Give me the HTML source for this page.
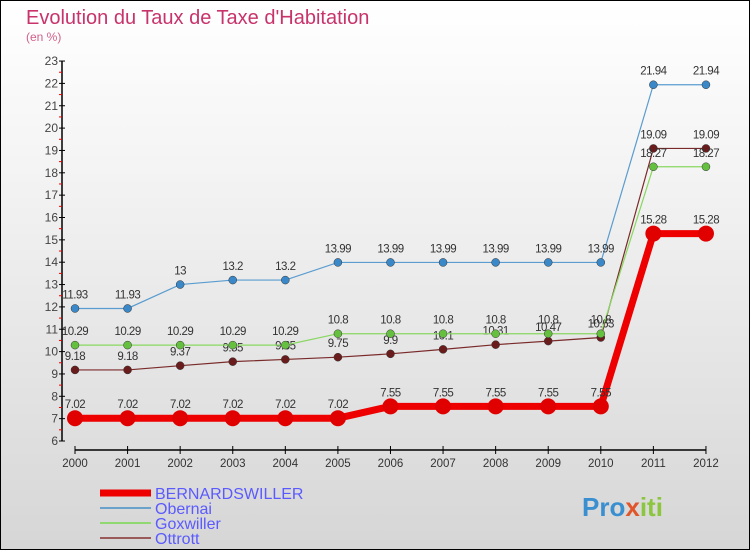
<!DOCTYPE html>
<html><head><meta charset="utf-8">
<style>
body{margin:0;width:750px;height:550px;overflow:hidden;font-family:"Liberation Sans",sans-serif;}
#wrap{position:absolute;left:0;top:0;width:748px;height:548px;border:1px solid #000;background:linear-gradient(#ffffff,#f4f4f4 30%,#d6d6d6);}
</style></head><body>
<div id="wrap">
<svg id="chart" width="750" height="550" style="position:absolute;left:-1px;top:-1px">
<text x="26" y="24" font-size="20" fill="#c8336b">Evolution du Taux de Taxe d'Habitation</text>
<text x="26" y="41" font-size="12" fill="#d0608a">(en %)</text>
<g id="axes"></g><g id="series"></g><g id="legend"></g>
<text x="582" y="516" font-size="26" font-weight="bold"><tspan fill="#3a8fd0">Pro</tspan><tspan fill="#e0562a">x</tspan><tspan fill="#8cc63f">iti</tspan></text>
</svg>
</div>
<script>
const years=[2000,2001,2002,2003,2004,2005,2006,2007,2008,2009,2010,2011,2012];
const bernardswiller=[7.02,7.02,7.02,7.02,7.02,7.02,7.55,7.55,7.55,7.55,7.55,15.28,15.28];
const obernai=[11.93,11.93,13,13.2,13.2,13.99,13.99,13.99,13.99,13.99,13.99,21.94,21.94];
const goxwiller=[10.29,10.29,10.29,10.29,10.29,10.8,10.8,10.8,10.8,10.8,10.8,18.27,18.27];
const ottrott=[9.18,9.18,9.37,9.55,9.65,9.75,9.9,10.1,10.31,10.47,10.63,19.09,19.09];
const yTicks=[6,7,8,9,10,11,12,13,14,15,16,17,18,19,20,21,22,23];
const NS="http://www.w3.org/2000/svg";
const x=i=>75+i*52.58, y=v=>441-(v-6)*22.35;
function mk(tag,attrs,parent){const e=document.createElementNS(NS,tag);for(const k in attrs)e.setAttribute(k,attrs[k]);parent.appendChild(e);return e;}
const axes=document.getElementById('axes');
let e=mk('line',{x1:62,y1:y(23),x2:62,y2:y(6),stroke:'#000','stroke-width':1.5},axes);

e=mk('line',{x1:x(0),y1:450,x2:x(12),y2:450,stroke:'#000','stroke-width':1.5},axes);

yTicks.forEach(v=>{
 mk('line',{x1:59,y1:y(v),x2:65,y2:y(v),stroke:'#000'},axes);
 if(v<23)mk('line',{x1:59,y1:y(v+0.5),x2:62,y2:y(v+0.5),stroke:'#e00'},axes);
 const t=mk('text',{x:58,y:y(v)+4,'text-anchor':'end','font-size':12,fill:'#444'},axes);t.textContent=v;
 
});
years.forEach((yr,i)=>{
 mk('line',{x1:x(i),y1:446,x2:x(i),y2:454,stroke:'#000'},axes);
 const t=mk('text',{x:x(i),y:467,'text-anchor':'middle','font-size':11.5,fill:'#333'},axes);t.textContent=yr;
 
});
const ser=document.getElementById('series');
const defs=[['ottrott',ottrott,'#7a2a2a','#6a1c1c',1.2,4],['goxwiller',goxwiller,'#88d860','#66c040',1.2,4],['obernai',obernai,'#5a9ccf','#3a88c8',1.2,4],['bernardswiller',bernardswiller,'#ee0000','#e00000',7,8]];
defs.forEach(([name,data,lc,pc,w,r])=>{
 const g=mk('g',{},ser);
 const p=mk('polyline',{points:data.map((v,i)=>x(i)+','+y(v)).join(' '),fill:'none',stroke:lc,'stroke-width':w},g);
 
 data.forEach((v,i)=>{
  const c=mk('circle',{cx:x(i),cy:y(v),r:r,fill:pc,stroke:r>5?'none':'#333','stroke-width':0.5},g);
  
  const t=mk('text',{x:x(i),y:y(v)-10,'text-anchor':'middle','font-size':11.5,fill:'#333','letter-spacing':'-0.5'},g);t.textContent=v;
  
 });
});
const lg=document.getElementById('legend');
const leg=[['BERNARDSWILLER','#ee0000',7],['Obernai','#6aa2cc',2],['Goxwiller','#90d870',2],['Ottrott','#9a5a5a',2]];
leg.forEach(([n,c,w],i)=>{
 const yy=493+i*15;
 const g=mk('g',{},lg);
 mk('line',{x1:100,y1:yy,x2:151,y2:yy,stroke:c,'stroke-width':w},g);
 const t=mk('text',{x:155,y:yy+6,'font-size':16,fill:'#5a5aff'},g);t.textContent=n;
});
</script>
</body></html>
